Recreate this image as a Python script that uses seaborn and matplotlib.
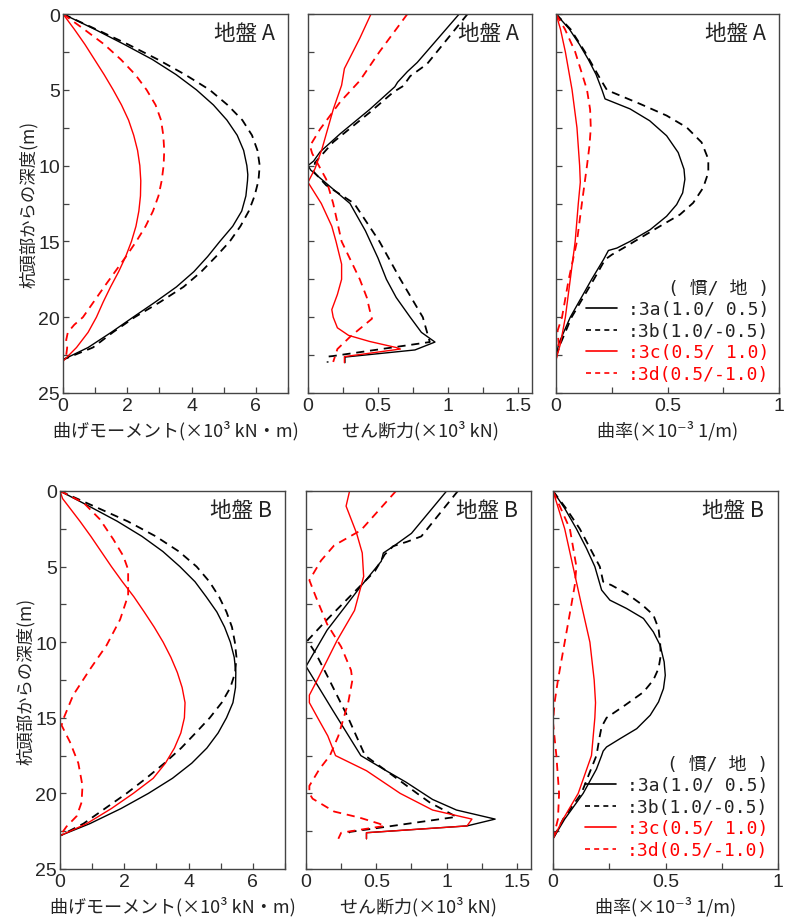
import matplotlib
matplotlib.use("Agg")
import matplotlib.pyplot as plt
from matplotlib.lines import Line2D
from matplotlib.ticker import MultipleLocator
import seaborn as sns

# ---------------- data: depth (m) and response values ----------------
cases = ["3a", "3b", "3c", "3d"]
case_labels = [":3a(1.0/ 0.5)", ":3b(1.0/-0.5)", ":3c(0.5/ 1.0)", ":3d(0.5/-1.0)"]
case_colors = ["black", "black", "red", "red"]
case_dashed = [False, True, False, True]

# bending moment, ground A (x10^3 kN·m)
mA_3a_z = [0, 1, 2, 3, 4, 5, 6, 7, 8, 9, 10, 10.6, 11, 12, 13, 14, 15, 16, 17, 18, 19, 20, 21, 22, 22.8]
mA_3a_v = [0, 0.98, 1.9, 2.78, 3.52, 4.15, 4.68, 5.1, 5.42, 5.62, 5.72, 5.75, 5.74, 5.69, 5.56, 5.28,
           4.88, 4.5, 4.07, 3.53, 2.87, 2.18, 1.5, 0.78, 0]
mA_3b_z = [0, 1, 2, 3, 4, 5, 6, 7, 8, 9, 10, 11, 12, 13, 14, 15, 16, 17, 18, 19, 20, 21, 22, 22.8]
mA_3b_v = [0, 1.02, 2.02, 2.95, 3.8, 4.56, 5.12, 5.58, 5.88, 6.05, 6.12, 6.08, 5.96, 5.78, 5.52,
           5.19, 4.76, 4.3, 3.75, 3.02, 2.23, 1.55, 0.93, 0]
mA_3c_z = [0, 1, 2, 3, 4, 5, 6, 7, 8, 9, 10, 11, 12, 13, 14, 15, 16, 17, 18, 19, 20, 21, 22, 22.9]
mA_3c_v = [0, 0.35, 0.68, 0.98, 1.28, 1.56, 1.82, 2.04, 2.2, 2.32, 2.39, 2.42, 2.41, 2.36, 2.27,
           2.13, 1.95, 1.73, 1.48, 1.25, 1.04, 0.78, 0.42, 0]
mA_3d_z = [0, 1, 2, 3, 4, 5, 6, 7, 8, 9, 10, 11, 12, 13, 14, 15, 16, 17, 18, 19, 20, 20.5, 21,
           21.5, 22, 22.5, 22.9]
mA_3d_v = [0, 0.65, 1.28, 1.8, 2.25, 2.6, 2.88, 3.05, 3.12, 3.15, 3.13, 3.07, 2.97, 2.8, 2.57, 2.28,
           1.96, 1.62, 1.28, 0.95, 0.62, 0.35, 0.15, 0.1, 0.13, 0.1, 0]

# bending moment, ground B
mB_3a_z = [0, 1, 2, 3, 4, 5, 6, 7, 8, 9, 10, 11, 12, 13, 14, 15, 16, 17, 18, 19, 20, 21, 22, 22.8]
mB_3a_v = [0, 0.9, 1.78, 2.55, 3.2, 3.73, 4.2, 4.55, 4.88, 5.12, 5.3, 5.42, 5.47, 5.46, 5.38, 5.18,
           4.92, 4.57, 4.1, 3.5, 2.75, 1.9, 0.93, 0]
mB_3b_z = [0, 1, 2, 3, 4, 5, 6, 7, 8, 9, 10, 11, 12, 13, 14, 15, 16, 17, 18, 19, 20, 21, 22, 22.8]
mB_3b_v = [0, 1.05, 2.1, 2.98, 3.7, 4.25, 4.65, 4.95, 5.18, 5.35, 5.44, 5.49, 5.45, 5.3, 5.03, 4.66,
           4.22, 3.77, 3.25, 2.68, 2.07, 1.4, 0.73, 0]
mB_3c_z = [0, 0.5, 1, 2, 3, 4, 5, 6, 7, 8, 9, 10, 11, 12, 13, 14, 15, 16, 17, 18, 19, 20, 21, 22, 22.8]
mB_3c_v = [0, 0.08, 0.26, 0.62, 0.96, 1.28, 1.6, 1.94, 2.3, 2.62, 2.93, 3.21, 3.45, 3.65, 3.8, 3.89,
           3.87, 3.76, 3.56, 3.28, 2.9, 2.28, 1.6, 0.83, 0]
mB_3d_z = [0, 0.77, 1.87, 3.2, 4.3, 5.2, 6.9, 8.5, 10.2, 11.8, 13.5, 15.1, 15.5, 16.6, 18, 19.5,
           20.6, 21.5, 22.2, 22.8]
mB_3d_v = [0, 0.73, 1.24, 1.66, 1.97, 2.12, 2.12, 1.87, 1.45, 0.93, 0.41, 0.1, 0.05, 0.31, 0.57,
           0.7, 0.67, 0.52, 0.2, 0]

# shear force, ground A (x10^3 kN)
sA_3a_z = [0, 3.2, 3.8, 4.5, 4.8, 6.3, 7.9, 9.1, 9.7, 10.0, 10.3, 12.5, 14.3, 16.1, 17.5, 18.7,
           20, 21, 21.64, 22.16, 22.63, 23.0]
sA_3a_v = [1.08, 0.78, 0.71, 0.64, 0.62, 0.44, 0.23, 0.086, 0.04, 0.0, 0.02, 0.30, 0.41, 0.5, 0.56,
           0.63, 0.73, 0.81, 0.907, 0.764, 0.264, 0.264]
sA_3b_z = [0, 3.3, 4.1, 4.75, 5.15, 6.5, 8.45, 9.8, 10.4, 11.3, 12.5, 15, 17.5, 20, 21.64, 22.56,
           22.6, 23.0]
sA_3b_v = [1.14, 0.85, 0.73, 0.68, 0.61, 0.44, 0.18, 0.05, 0.04, 0.13, 0.33, 0.51, 0.66, 0.82, 0.87,
           0.18, 0.14, 0.14]
sA_3c_z = [0, 1.6, 3.6, 4.7, 6.3, 8.9, 10.2, 11.1, 12.5, 14, 15, 16.5, 17.5, 18.5, 19.5, 20, 20.7,
           21.2, 21.6, 22.0, 22.1, 22.6, 23.0]
sA_3c_v = [0.45, 0.37, 0.26, 0.24, 0.18, 0.1, 0.05, 0.0, 0.095, 0.17, 0.2, 0.24, 0.24, 0.21, 0.17,
           0.18, 0.21, 0.29, 0.44, 0.63, 0.66, 0.26, 0.26]
sA_3d_z = [0, 2.5, 4.4, 5.8, 7.6, 8.7, 9.2, 10.9, 12.5, 15, 17.5, 18.7, 19.5, 20.1, 21.3, 22.1, 22.95]
sA_3d_v = [0.71, 0.51, 0.37, 0.23, 0.086, 0.014, 0.03, 0.13, 0.18, 0.24, 0.37, 0.42, 0.44, 0.457,
           0.30, 0.21, 0.18]

# shear force, ground B
sB_3a_z = [0, 2.8, 3.6, 4.1, 4.65, 6.3, 9.2, 11.6, 14.5, 17.5, 18.5, 19.25, 20.4, 21.1, 21.7,
           22.15, 22.6, 23.0]
sB_3a_v = [1.0, 0.75, 0.63, 0.55, 0.535, 0.39, 0.15, 0.0, 0.19, 0.39, 0.57, 0.71, 0.9, 1.07, 1.345,
           1.145, 0.43, 0.43]
sB_3b_z = [0, 3.0, 3.35, 3.65, 4.2, 5.3, 8.5, 9.9, 10.75, 12.2, 15, 17.5, 18.7, 20, 20.6, 21.55,
           22.55, 22.7]
sB_3b_v = [1.08, 0.82, 0.72, 0.62, 0.56, 0.49, 0.15, 0.01, 0.07, 0.15, 0.30, 0.42, 0.6, 0.79, 0.88,
           1.07, 0.31, 0.30]
sB_3c_z = [0, 1.0, 2.8, 4.1, 5.65, 7.9, 9.9, 12.5, 13.5, 14, 15, 16.2, 17.5, 18.5, 20, 21.1, 21.7,
           22.15, 22.6, 23.0]
sB_3c_v = [0.31, 0.285, 0.36, 0.40, 0.41, 0.345, 0.22, 0.08, 0.024, 0.024, 0.083, 0.155, 0.21, 0.43,
           0.67, 0.90, 1.18, 1.145, 0.43, 0.43]
sB_3d_z = [0, 2.6, 3.6, 4.6, 5.9, 7.0, 8.8, 10.3, 11.85, 12.5, 14, 16.2, 17.5, 18.4, 19.5, 20.0,
           20.35, 21.2, 21.6, 22.0, 22.15, 22.6, 23.0]
sB_3d_v = [0.64, 0.39, 0.20, 0.107, 0.024, 0.07, 0.15, 0.25, 0.32, 0.33, 0.30, 0.23, 0.17, 0.095,
           0.024, 0.024, 0.047, 0.2, 0.38, 0.52, 0.56, 0.25, 0.23]

# curvature, ground A (x10^-3 1/m)
cA_3a_z = [0, 1, 2, 3, 4, 5, 5.6, 6.26, 7.04, 8.03, 9.14, 10.24, 10.9, 11.8, 12.57, 13.34, 14.23,
           15.0, 15.44, 15.6, 16.2, 17.5, 20, 21.75, 22.6]
cA_3a_v = [0, 0.06, 0.105, 0.145, 0.18, 0.206, 0.22, 0.332, 0.42, 0.496, 0.548, 0.574, 0.578, 0.568,
           0.541, 0.496, 0.422, 0.332, 0.273, 0.235, 0.213, 0.16, 0.064, 0.012, 0]
cA_3b_z = [0, 1, 2.5, 4.27, 5.0, 5.15, 5.93, 6.7, 7.48, 8.47, 9.58, 10.46, 11.46, 12.46, 13.23,
           14.0, 14.78, 15.44, 15.88, 16.2, 17.5, 20, 21.75, 22.6]
cA_3b_v = [0, 0.065, 0.13, 0.198, 0.228, 0.25, 0.377, 0.496, 0.586, 0.653, 0.683, 0.683, 0.66, 0.615,
           0.556, 0.466, 0.377, 0.302, 0.25, 0.22, 0.17, 0.07, 0.02, 0]
cA_3c_z = [0, 1, 2.5, 5, 7.5, 10, 11.1, 12.5, 15, 17.5, 20, 21.75, 22.8]
cA_3c_v = [0, 0.02, 0.042, 0.072, 0.094, 0.106, 0.109, 0.10, 0.086, 0.064, 0.042, 0.02, 0]
cA_3d_z = [0, 1, 2.5, 5, 6.3, 7.5, 8.7, 10, 12.5, 15, 17.5, 20, 20.9, 21.75, 22.8]
cA_3d_v = [0, 0.04, 0.086, 0.139, 0.153, 0.156, 0.15, 0.139, 0.116, 0.094, 0.057, 0.027, 0.007,
           0.012, 0]

# curvature, ground B
cB_3a_z = [0, 1.15, 2.5, 3.8, 5, 6.55, 7.22, 7.77, 8.43, 9.32, 10.2, 11.3, 12.19, 13.07, 13.95,
           14.83, 15.72, 16.38, 16.93, 17.2, 17.5, 18.4, 20, 21.7, 23.0]
cB_3a_v = [0, 0.052, 0.104, 0.149, 0.186, 0.216, 0.253, 0.327, 0.402, 0.446, 0.476, 0.494, 0.499,
           0.491, 0.469, 0.432, 0.372, 0.298, 0.238, 0.223, 0.216, 0.193, 0.134, 0.052, 0]
cB_3b_z = [0, 1.15, 2.5, 5, 6.0, 6.23, 6.78, 7.5, 8.2, 9.1, 10, 10.86, 11.74, 12.5, 13.3, 14.17,
           15, 15.6, 16.2, 17.5, 20, 21.7, 23.0]
cB_3b_v = [0, 0.058, 0.119, 0.208, 0.223, 0.26, 0.327, 0.394, 0.446, 0.469, 0.476, 0.479, 0.469,
           0.446, 0.402, 0.32, 0.238, 0.216, 0.208, 0.193, 0.126, 0.045, 0]
cB_3c_z = [0, 2.5, 5, 7.5, 10, 12.5, 14, 15, 17.5, 20, 21.7, 23.0]
cB_3c_v = [0, 0.052, 0.089, 0.126, 0.164, 0.183, 0.189, 0.186, 0.171, 0.112, 0.045, 0]
cB_3d_z = [0, 2.5, 5, 6.2, 7.5, 10, 12.5, 14, 15.3, 17.5, 20, 21.7, 23.0]
cB_3d_v = [0, 0.075, 0.104, 0.097, 0.082, 0.052, 0.022, 0.007, 0, 0.015, 0.027, 0.022, 0]

grounds = ["地盤 A", "地盤 B"]
xlabels = ["曲げモーメント(×10³ kN・m)", "せん断力(×10³ kN)", "曲率(×10⁻³ 1/m)"]
ylabel = "杭頭部からの深度(m)"

# ---------------- style ----------------
sns.set_theme(style="ticks")
CJK = ["Noto Sans CJK JP", "DejaVu Sans"]
NUM = ["Liberation Sans", "DejaVu Sans"]
MONO = ["DejaVu Sans Mono", "Noto Sans CJK JP"]
plt.rcParams["font.family"] = CJK
plt.rcParams["axes.edgecolor"] = "#444444"
plt.rcParams["axes.linewidth"] = 1.0

fig = plt.figure(figsize=(7.97, 9.2), dpi=100)
W, H = 797.0, 920.0

# axes boxes in pixels: (left, top, right, bottom)
boxes = [
    [(63, 15, 288, 394), (308, 15, 532, 394), (556, 15, 779, 394)],
    [(60, 492, 285, 870), (306, 492, 531, 870), (553, 492, 778, 870)],
]
xlims = [(0, 7), (0, 1.6), (0, 1)]
xmajor = [2, 0.5, 0.5]
xminor = [1, 0.25, 0.25]

series = {
    (0, 0): [(mA_3a_z, mA_3a_v), (mA_3b_z, mA_3b_v), (mA_3c_z, mA_3c_v), (mA_3d_z, mA_3d_v)],
    (0, 1): [(sA_3a_z, sA_3a_v), (sA_3b_z, sA_3b_v), (sA_3c_z, sA_3c_v), (sA_3d_z, sA_3d_v)],
    (0, 2): [(cA_3a_z, cA_3a_v), (cA_3b_z, cA_3b_v), (cA_3c_z, cA_3c_v), (cA_3d_z, cA_3d_v)],
    (1, 0): [(mB_3a_z, mB_3a_v), (mB_3b_z, mB_3b_v), (mB_3c_z, mB_3c_v), (mB_3d_z, mB_3d_v)],
    (1, 1): [(sB_3a_z, sB_3a_v), (sB_3b_z, sB_3b_v), (sB_3c_z, sB_3c_v), (sB_3d_z, sB_3d_v)],
    (1, 2): [(cB_3a_z, cB_3a_v), (cB_3b_z, cB_3b_v), (cB_3c_z, cB_3c_v), (cB_3d_z, cB_3d_v)],
}

for r in range(2):
    for c in range(3):
        l, t, rr, b = boxes[r][c]
        ax = fig.add_axes([l / W, 1 - b / H, (rr - l) / W, (b - t) / H])
        for k, (z, v) in enumerate(series[(r, c)]):
            ls = (0, (4.5, 3.2)) if case_dashed[k] else "-"
            lw = 1.3 if case_dashed[k] else 1.0
            sns.lineplot(x=v, y=z, sort=False, estimator=None, color=case_colors[k],
                         linestyle=ls, linewidth=lw, ax=ax, legend=False)
        ax.set_xlim(*xlims[c])
        ax.set_ylim(25, 0)
        ax.xaxis.set_major_locator(MultipleLocator(xmajor[c]))
        ax.xaxis.set_minor_locator(MultipleLocator(xminor[c]))
        ax.yaxis.set_major_locator(MultipleLocator(5))
        ax.yaxis.set_minor_locator(MultipleLocator(2.5))
        ax.tick_params(which="both", direction="in", length=4, width=0.9, color="#444444",
                       top=False, right=False)
        ax.tick_params(axis="x", which="major", pad=3)
        ax.set_xticklabels([f"{v:g}" for v in ax.get_xticks()])
        for lab in ax.get_xticklabels():
            lab.set_fontfamily(NUM)
            lab.set_fontsize(14)
        if c == 0:
            ax.set_yticks([0, 5, 10, 15, 20, 25])
            ax.set_yticklabels(["0", "5", "10", "15", "20", "25"])
            for lab in ax.get_yticklabels():
                lab.set_fontfamily(NUM)
                lab.set_fontsize(14)
            ax.tick_params(axis="y", which="major", pad=2)
            ax.set_ylabel(ylabel, fontsize=12.5, color="#222222", labelpad=0)
        else:
            ax.set_yticklabels([])
            ax.set_ylabel("")
        ax.set_xlim(*xlims[c])
        ax.set_ylim(25, 0)
        ax.set_xlabel(xlabels[c], fontsize=13, color="#222222", labelpad=4)
        ax.text(0.94, 0.978, grounds[r], transform=ax.transAxes, ha="right", va="top",
                fontsize=15.5, color="#222222")

        if c == 2:
            handles = [Line2D([], [], color=case_colors[k],
                              linestyle=(0, (3, 2.5)) if case_dashed[k] else "-",
                              linewidth=1.2) for k in range(4)]
            leg = ax.legend(handles, case_labels, title="( 慣/ 地 )", loc="lower right",
                            frameon=False, handlelength=1.7, handletextpad=0.6,
                            labelspacing=0.2, borderaxespad=0.15,
                            prop={"family": MONO, "size": 13},
                            title_fontproperties={"family": MONO, "size": 13},
                            alignment="right")
            for txt, col in zip(leg.get_texts(), case_colors):
                txt.set_color(col if col == "red" else "#222222")
            leg.get_title().set_color("#222222")

fig.savefig("out.png", dpi=100)
